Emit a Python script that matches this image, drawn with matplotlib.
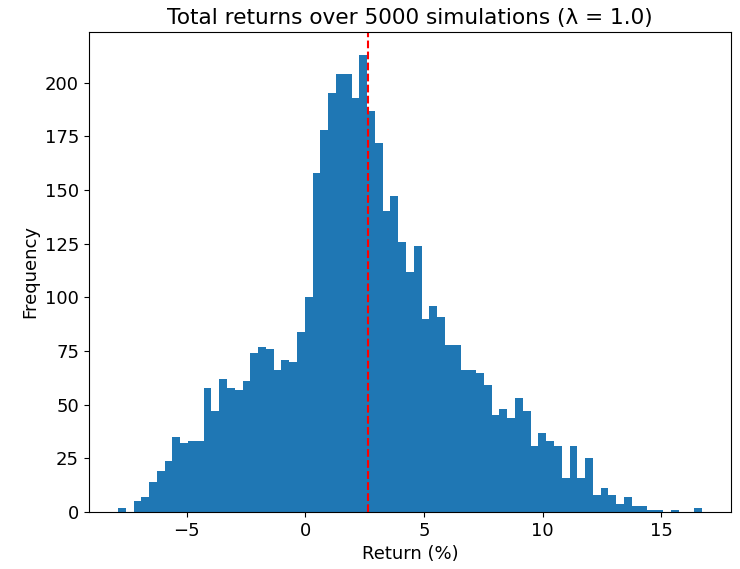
import numpy as np
import matplotlib
matplotlib.use("Agg")
import matplotlib.pyplot as plt

# histogram of total returns, 75 equal-width bins
ret_min = -7.9
ret_max = 16.72
counts = [
    2, 0, 5, 7, 14, 19, 24, 35, 32, 33, 33,
    58, 47, 62, 58, 57, 61, 74, 77, 76, 66, 71, 70, 84, 100,
    158, 178, 195, 204, 204, 193, 213, 187, 172, 140, 147, 126, 112,
    124, 90, 96, 91, 78, 78, 66, 66, 65, 59, 45,
    48, 44, 53, 47, 31, 37, 33, 31, 16, 31, 16, 25,
    8, 11, 8, 4, 7, 3, 3, 1, 1, 0, 1, 0, 0, 2,
]
mean_return = 2.65
lam = 1.0
n_sims = 5000


def main() -> None:
    edges = np.linspace(ret_min, ret_max, len(counts) + 1)
    centers = (edges[:-1] + edges[1:]) / 2

    plt.rcParams["font.size"] = 13
    fig, ax = plt.subplots(figsize=(7.4, 5.69), dpi=100)
    fig.subplots_adjust(left=0.12, right=0.988, bottom=0.1, top=0.944)

    ax.hist(centers, bins=edges, weights=counts, color="#1f77b4")
    ax.axvline(mean_return, color="red", linestyle="--", linewidth=1.5)
    ax.set_xlabel("Return (%)")
    ax.set_ylabel("Frequency")
    ax.set_title(f"Total returns over {n_sims} simulations (λ = {lam})")

    fig.savefig("out.png", dpi=100)
    plt.close(fig)


if __name__ == "__main__":
    main()
